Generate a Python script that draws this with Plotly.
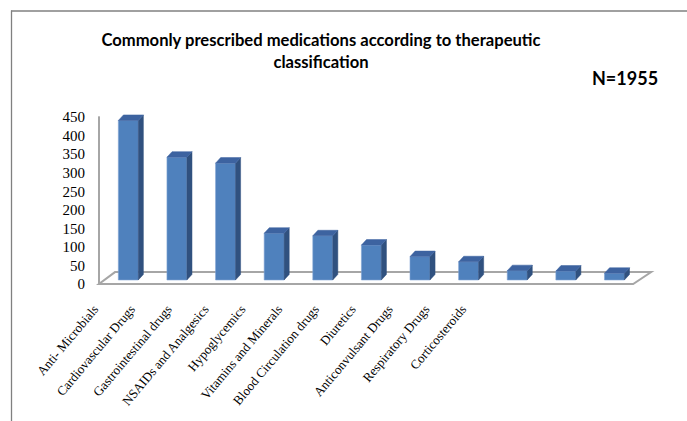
import plotly.graph_objects as go

# ---- data ----
categories = ["Anti- Microbials", "Cardiovascular Drugs", "Gastrointestinal drugs",
              "NSAIDs and Analgesics", "Hypoglycemics", "Vitamins and Minerals",
              "Blood Circulation drugs", "Diuretics", "Anticonvulsant Drugs",
              "Respiratory Drugs", "Corticosteroids"]
values = [430, 331, 315, 126, 119, 94, 63, 49, 25, 24, 18]
y_ticks = [0, 50, 100, 150, 200, 250, 300, 350, 400, 450]
title_text = "Commonly prescribed medications according to therapeutic<br>classification"
n_text = "N=1955"

# ---- layout geometry (pixels) ----
W, H = 687, 421
L, R, T, B = 90, 22, 100, 131
PW, PH = W - L - R, H - T - B

X_RANGE = [-0.788, 11.04]
Y_RANGE = [-16.2, 496]
X2_RANGE = [-0.109, 15.516]

# 3D pseudo-perspective styling
BASE = 10.8        # floor level (value units) where bar fronts start
HALF = 0.205       # half width of front face
DX, DY = 0.105, 15 # depth offset for side/top faces
FLOOR = [(-0.603, 0), (10.385, 0), (10.755, 32), (-0.274, 32)]

FRONT, SIDE, TOP = "#4F81BD", "#30517F", "#3D63A0"
GRID = "#A6A6A6"

def px2paper_x(px):
    return (px - L) / PW

def px2paper_y(py):
    return (H - B - py) / PH

idx = list(range(len(categories)))

# side and top faces built from data
side_x, side_y, top_x, top_y = [], [], [], []
for i, v in zip(idx, values):
    t = BASE + v
    side_x += [i + HALF, i + HALF, i + HALF + DX, i + HALF + DX, i + HALF, None]
    side_y += [BASE, t, t + DY, BASE + DY, BASE, None]
    top_x += [i - HALF, i + HALF, i + HALF + DX, i - HALF + DX, i - HALF, None]
    top_y += [t, t, t + DY, t + DY, t, None]

fig = go.Figure()
fig.add_trace(go.Bar(x=idx, y=values, base=BASE, width=2 * HALF,
                     marker=dict(color=FRONT, line=dict(color="#7FA3D3", width=0.6)),
                     hoverinfo="skip", showlegend=False))
fig.add_trace(go.Scatter(x=side_x, y=side_y, fill="toself", fillcolor=SIDE,
                         mode="lines", line=dict(color=SIDE, width=0.5),
                         hoverinfo="skip", showlegend=False))
fig.add_trace(go.Scatter(x=top_x, y=top_y, fill="toself", fillcolor=TOP,
                         mode="lines", line=dict(color=TOP, width=0.5),
                         hoverinfo="skip", showlegend=False))
# carrier trace for the category label axis (invisible)
fig.add_trace(go.Scatter(x=idx, y=values, xaxis="x2", yaxis="y", mode="markers",
                         marker=dict(opacity=0), hoverinfo="skip", showlegend=False))

# floor and vertical axis edge
path = "M " + " L ".join(f"{x},{y}" for x, y in FLOOR) + " Z"
shapes = [
    dict(type="path", path=path, xref="x", yref="y", fillcolor="white",
         line=dict(color=GRID, width=2), layer="below"),
    dict(type="line", xref="x", yref="y", x0=FLOOR[0][0], x1=FLOOR[0][0],
         y0=0, y1=y_ticks[-1] + 2, line=dict(color=GRID, width=2), layer="below"),
    # outer frame (top and left edges)
    dict(type="line", xref="paper", yref="paper",
         x0=px2paper_x(11), x1=px2paper_x(W),
         y0=px2paper_y(11), y1=px2paper_y(11),
         line=dict(color="#808080", width=1.5), layer="above"),
    dict(type="line", xref="paper", yref="paper",
         x0=px2paper_x(11.5), x1=px2paper_x(11.5),
         y0=px2paper_y(H), y1=px2paper_y(10.5),
         line=dict(color="#808080", width=1.3), layer="above"),
]

fig.update_layout(
    width=W, height=H,
    margin=dict(l=L, r=R, t=T, b=B, autoexpand=False),
    paper_bgcolor="white", plot_bgcolor="rgba(0,0,0,0)",
    showlegend=False,
    title=dict(text=title_text, x=321 / W, xanchor="center", xref="container",
               y=1 - 46 / H, yanchor="top", yref="container",
               font=dict(family="Lato", size=16.6, color="black", weight="bold")),
    xaxis=dict(range=X_RANGE, showticklabels=False, showgrid=False, zeroline=False,
               showline=False, ticks=""),
    xaxis2=dict(range=X2_RANGE, overlaying="x", anchor="y", side="bottom",
                tickmode="array", tickvals=idx, ticktext=categories, tickangle=-50,
                showgrid=False, zeroline=False, showline=False, ticks="",
                ticklabelstandoff=8,
                tickfont=dict(family="Liberation Serif", size=13, color="black")),
    yaxis=dict(range=Y_RANGE, tickmode="array", tickvals=y_ticks, showgrid=False,
               zeroline=False, showline=False, ticks="", ticklabelstandoff=4,
               tickfont=dict(family="Liberation Serif", size=15, color="black")),
    shapes=shapes,
    annotations=[dict(text=n_text, xref="paper", yref="paper",
                      x=px2paper_x(625), y=px2paper_y(78), xanchor="center",
                      yanchor="middle", showarrow=False,
                      font=dict(family="Lato", size=18, color="black", weight="bold"))],
)

fig.write_html("out.html", config={"displayModeBar": False})
